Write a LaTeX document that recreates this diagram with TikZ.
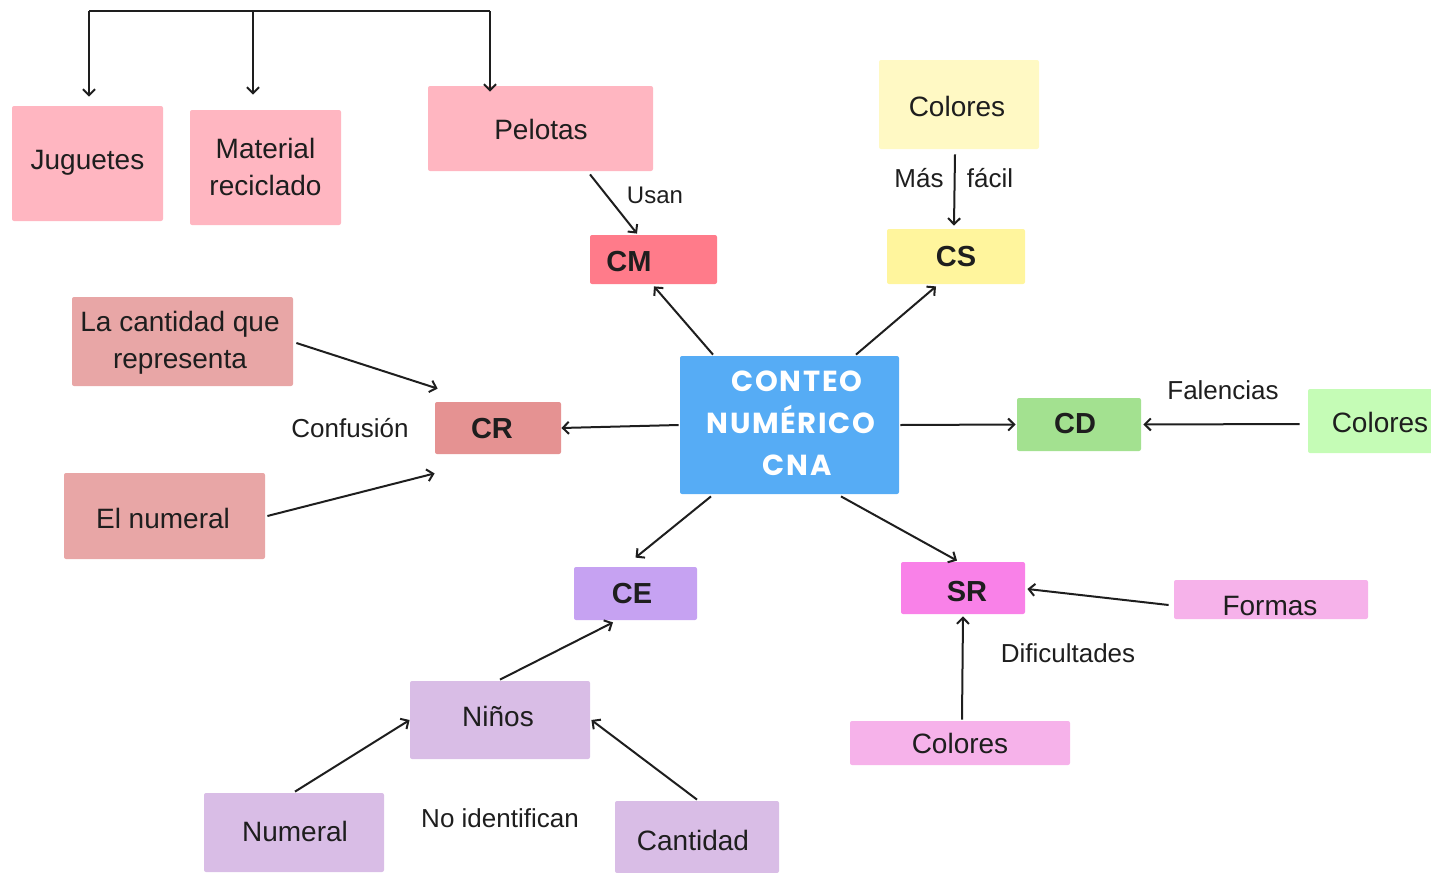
\documentclass[tikz,border=0pt]{standalone}
\usepackage{fontspec}
\setmainfont{Liberation Sans}
\newfontfamily\titlefont[LetterSpace=6]{Poppins}
\usetikzlibrary{arrows.meta}
\definecolor{pinkA}{HTML}{FFB6C1}
\definecolor{yellA}{HTML}{FFF9C4}
\definecolor{cmcol}{HTML}{FF7B8A}
\definecolor{cscol}{HTML}{FFF59D}
\definecolor{blueC}{HTML}{56ACF5}
\definecolor{rosA}{HTML}{E8A6A6}
\definecolor{crcol}{HTML}{E59292}
\definecolor{cdcol}{HTML}{A3E190}
\definecolor{greenA}{HTML}{C5FCB6}
\definecolor{cecol}{HTML}{C6A2F2}
\definecolor{srcol}{HTML}{F981E8}
\definecolor{pinkB}{HTML}{F6B2EA}
\definecolor{lilac}{HTML}{D9BDE6}
\definecolor{ink}{HTML}{1E1E1E}
\tikzset{
  bx/.style={rounded corners=1pt, inner sep=0pt, text=ink},
  txt/.style={font=\fontsize{14}{18.5}\selectfont, text=ink, align=center, inner sep=0pt},
  lbl/.style={font=\fontsize{13}{16}\selectfont, text=ink, inner sep=0pt},
  bld/.style={font=\fontsize{14.5}{17}\selectfont\bfseries, text=ink, inner sep=0pt},
  arr/.style={draw=ink, line width=1pt, -{Straight Barb[length=3pt,width=6pt,line width=1pt]}},
  ln/.style={draw=ink, line width=1pt}
}
\begin{document}
\begin{tikzpicture}[x=0.5pt,y=-0.5pt]
\useasboundingbox (0,0) rectangle (1431,873);
% boxes
\node[bx, fill=pinkA, minimum width=75.5pt, minimum height=57.5pt] (jug) at (87.5,163.5) {};
\node[txt] (jugt) at (87.5,163) {Juguetes};
\node[bx, fill=pinkA, minimum width=75.5pt, minimum height=57.5pt] (mat) at (265.5,167.5) {};
\node[txt] (matt) at (265.5,166.5) {Material\\reciclado};
\node[bx, fill=pinkA, minimum width=112.5pt, minimum height=42.5pt] (pel) at (540.5,128.5) {};
\node[txt] (pelt) at (541,129) {Pelotas};
\node[bx, fill=yellA, minimum width=80pt, minimum height=44.5pt] (coly) at (959,104.5) {};
\node[txt] (colyt) at (957,106) {Colores};
\node[bx, fill=cmcol, minimum width=63.5pt, minimum height=24.5pt] (cm) at (653.5,259.5) {};
\node[bld] (cmt) at (629,262) {CM};
\node[bx, fill=cscol, minimum width=69pt, minimum height=27.5pt] (cs) at (956,256.5) {};
\node[bld] (cst) at (956,257) {CS};
\node[bx, fill=blueC, minimum width=109.5pt, minimum height=69pt] (c) at (789.5,425) {};
\node[font=\titlefont\bfseries\fontsize{14.5}{21}\selectfont, text=white, align=center, inner sep=0pt] (ct) at (791,423) {\hspace*{6pt}CONTEO\\NUMÉRICO\\\hspace*{6pt}CNA};
\node[bx, fill=rosA, minimum width=110.5pt, minimum height=44.5pt] (lc) at (182.5,341.5) {};
\node[txt] (lct) at (180,342.5) {La cantidad que\\representa};
\node[bx, fill=crcol, minimum width=63pt, minimum height=26pt] (cr) at (498,428) {};
\node[bld] (crt) at (492,429) {CR};
\node[bx, fill=rosA, minimum width=100.5pt, minimum height=43pt] (en) at (164.5,516) {};
\node[txt] (ent) at (163,518) {El numeral};
\node[bx, fill=cdcol, minimum width=62pt, minimum height=26.5pt] (cd) at (1079,424.5) {};
\node[bld] (cdt) at (1075,424) {CD};
\node[bx, fill=greenA, minimum width=72pt, minimum height=32pt] (colg) at (1380,421) {};
\node[txt] (colgt) at (1380,422) {Colores};
\node[bx, fill=cecol, minimum width=61.5pt, minimum height=26.5pt] (ce) at (635.5,593.5) {};
\node[bld] (cet) at (632,594) {CE};
\node[bx, fill=srcol, minimum width=62pt, minimum height=26pt] (sr) at (963,588) {};
\node[bld] (srt) at (967,592) {SR};
\node[bx, fill=pinkB, minimum width=97pt, minimum height=19.5pt] (for) at (1271,599.5) {};
\node[txt] (fort) at (1270,606) {Formas};
\node[bx, fill=pinkB, minimum width=110pt, minimum height=22pt] (colp) at (960,743) {};
\node[txt] (colpt) at (960,743) {Colores};
\node[bx, fill=lilac, minimum width=90pt, minimum height=39pt] (ni) at (500,720) {};
\node[txt] (nit) at (498,716) {Niños};
\node[bx, fill=lilac, minimum width=90pt, minimum height=39.5pt] (nu) at (294,832.5) {};
\node[txt] (nut) at (295,831) {Numeral};
\node[bx, fill=lilac, minimum width=82pt, minimum height=36pt] (ca) at (697,837) {};
\node[txt] (cat) at (693,840) {Cantidad};
% labels
\node[lbl, font=\fontsize{12}{14}\selectfont] (usan) at (655,195) {Usan};
\node[lbl] (mas) at (919,178) {Más};
\node[lbl] (facil) at (990,178) {fácil};
\node[lbl] (conf) at (350,428) {Confusión};
\node[lbl] (fal) at (1223,390) {Falencias};
\node[lbl] (dif) at (1068,653) {Dificultades};
\node[lbl] (noid) at (500,818) {No identifican};
% top bracket
\coordinate (bj) at (89,11);
\coordinate (bm) at (253,11);
\coordinate (bp) at (490,11);
\draw[ln] (bj) -- (bp);
\draw[arr, shorten >=4.5pt] (bj) -- (bj |- jug.north);
\draw[arr, shorten >=7.5pt] (bm) -- (bm |- mat.north);
\draw[arr, shorten >=-3pt] (bp) -- (bp |- pel.north);
% connectors
\draw[arr] ([xshift=24.75pt,yshift=-1.5pt]pel.south) -- ([xshift=-8.25pt,yshift=0.5pt]cm.north);
\draw[arr] ([xshift=-2pt,yshift=-2.5pt]coly.south) -- ([xshift=-1pt,yshift=1.5pt]cs.north);
\draw[arr] ([xshift=-38.25pt,yshift=0.5pt]c.north) -- ([xshift=0.25pt,yshift=-1pt]cm.south);
\draw[arr] ([xshift=33.25pt,yshift=0.5pt]c.north) -- ([xshift=-10pt,yshift=-1pt]cs.south);
\draw[arr] ([xshift=-0.5pt]c.west) -- (cr.east);
\draw[arr] ([xshift=1.5pt,yshift=-0.75pt]lc.east) -- ([xshift=1.5pt,yshift=6.5pt]cr.north west);
\draw[arr] ([xshift=1pt]en.east) -- ([yshift=-9.5pt]cr.south west);
\draw[arr] ([xshift=0.5pt]c.east) -- ([xshift=-0.5pt]cd.west);
\draw[arr] ([xshift=-4pt,yshift=-1.5pt]colg.west) -- ([xshift=1pt]cd.east);
\draw[arr] ([xshift=-39.25pt,yshift=-1pt]c.south) -- ([yshift=4.5pt]ce.north);
\draw[arr] ([xshift=25.75pt,yshift=-1pt]c.south) -- ([xshift=-3pt,yshift=0.5pt]sr.north);
\draw[arr] ([xshift=-2.5pt,yshift=-2.75pt]for.west) -- ([xshift=1pt,yshift=-0.5pt]sr.east);
\draw[arr] ([xshift=1pt,yshift=0.5pt]colp.north) -- ([yshift=-1pt]sr.south);
\draw[arr] ([yshift=0.5pt]ni.north) -- ([xshift=-11.25pt,yshift=-1pt]ce.south);
\draw[arr] ([xshift=0.5pt,yshift=0.5pt]nu.north) -- (ni.west);
\draw[arr] ([yshift=0.5pt]ca.north) -- ([xshift=0.5pt]ni.east);
\end{tikzpicture}
\end{document}
